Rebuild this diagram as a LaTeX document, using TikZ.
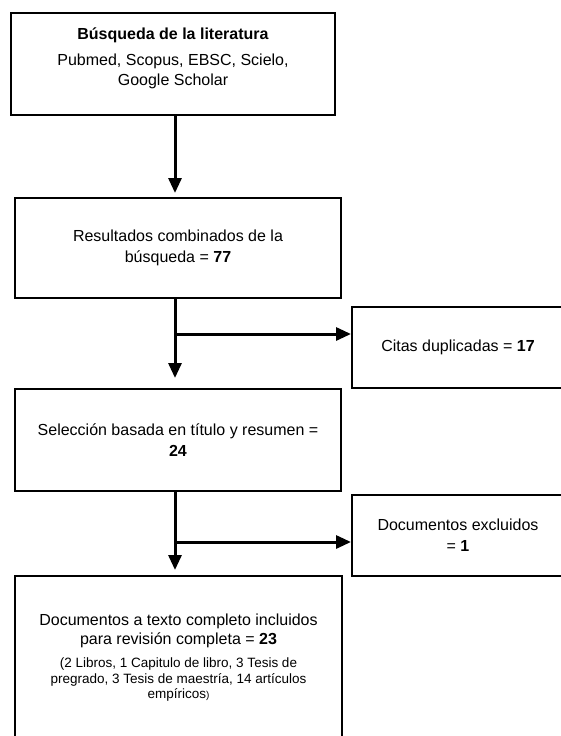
\documentclass[tikz,border=0pt]{standalone}
\usepackage{fontspec}
\setmainfont{Liberation Sans}
\usetikzlibrary{arrows.meta}
\tikzset{
  box/.style={draw, line width=2pt, align=center, inner sep=0pt, font=\fontsize{16}{21}\selectfont},
  flow/.style={line width=3pt, -{Triangle[length=15pt,width=13pt]}}
}
\newcommand{\smallline}[1]{{\fontsize{13.5}{18}\selectfont #1}}

\begin{document}
\begin{tikzpicture}[x=1pt,y=-1pt]
  \clip (0,0) rectangle (561,736);  % page frame

  % main column
  \node[box, minimum width=324pt, minimum height=102pt, text depth=14pt] (search) at (173,64)
    {\textbf{Búsqueda de la literatura}\\[5pt]Pubmed, Scopus, EBSC, Scielo,\\[-1pt]Google Scholar};  % search box
  \node[box, minimum width=326pt, minimum height=100pt] (combined) at (178,248)
    {Resultados combinados de la\\búsqueda = \textbf{77}};  % combined results
  \node[box, minimum width=326pt, minimum height=102pt] (screened) at (178,440)
    {Selección basada en título y resumen =\\\textbf{24}};  % title/abstract screening
  \node[box, minimum width=327pt, inner ysep=38pt, text depth=120pt, anchor=north] (included) at (178.5,575)
    {Documentos a texto completo incluidos\\[-2pt]para revisión completa = \textbf{23}\\[2pt]%
     \smallline{(2 Libros, 1 Capitulo de libro, 3 Tesis de}\\[-5.5pt]%
     \smallline{pregrado, 3 Tesis de maestría, 14 artículos}\\[-5.5pt]%
     \smallline{empíricos{\fontsize{10}{12}\selectfont)}}};  % included documents

  % side boxes
  \node[box, minimum width=212pt, minimum height=81pt] (duplicates) at (458,347.5)
    {Citas duplicadas = \textbf{17}};  % duplicates
  \node[box, minimum width=212pt, minimum height=81pt] (excluded) at (458,535.5)
    {Documentos excluidos\\= \textbf{1}};  % excluded

  % trunk and branch points
  \coordinate (trunk) at (175,0);
  \coordinate (dup) at (175,334);
  \coordinate (excl) at (175,542);

  % arrows
  \draw[flow, shorten >=4pt] (search.south -| trunk) -- (combined.north -| trunk);  % to combined
  \draw[flow, shorten >=10pt] (combined.south -| trunk) -- (screened.north -| trunk);  % to screening
  \draw[flow, shorten >=5pt] (screened.south -| trunk) -- (included.north -| trunk);  % to included
  \draw[flow] (dup) -- (dup -| duplicates.west);  % to duplicates
  \draw[flow] (excl) -- (excl -| excluded.west);  % to excluded
\end{tikzpicture}
\end{document}
